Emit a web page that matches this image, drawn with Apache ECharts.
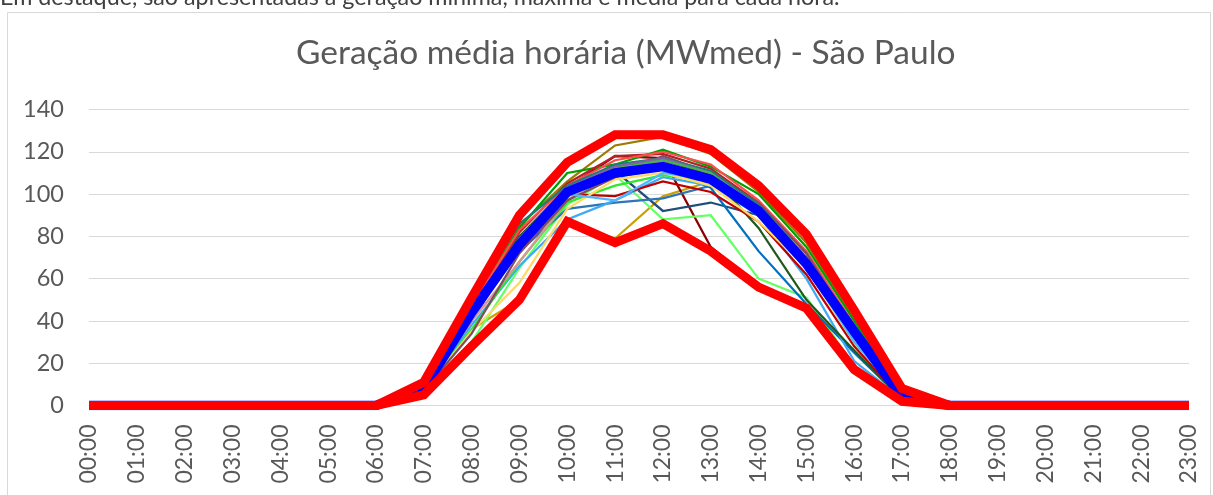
<!DOCTYPE html>
<html>
<head>
<meta charset="utf-8">
<script src="https://cdn.jsdelivr.net/npm/echarts@6/dist/echarts.min.js"></script>
<style>
  html, body { margin: 0; padding: 0; background: #ffffff; }
  #chart { width: 1213px; height: 495px; }
</style>
</head>
<body>
<div id="chart"></div>
<script>
// Hourly categories
const hours = ['00:00','01:00','02:00','03:00','04:00','05:00','06:00','07:00','08:00','09:00','10:00','11:00',
               '12:00','13:00','14:00','15:00','16:00','17:00','18:00','19:00','20:00','21:00','22:00','23:00'];

// Daily hourly generation profiles (MWmed)
const day01 = [0,0,0,0,0,0,0, 9,48,85,106,123,127,119,101,77,40,6, 0,0,0,0,0,0];
const day02 = [0,0,0,0,0,0,0, 6,36,50,87,79,99,106,92,70,34,4, 0,0,0,0,0,0];
const day03 = [0,0,0,0,0,0,0, 8,40,76,103,118,117,75,56,47,18,3, 0,0,0,0,0,0];
const day04 = [0,0,0,0,0,0,0, 7,30,65,95,109,88,90,60,51,19,3, 0,0,0,0,0,0];
const day05 = [0,0,0,0,0,0,0, 8,44,80,100,111,92,96,90,68,33,4, 0,0,0,0,0,0];
const day06 = [0,0,0,0,0,0,0, 8,42,73,93,96,98,104,91,67,32,4, 0,0,0,0,0,0];
const day07 = [0,0,0,0,0,0,0, 8,43,76,99,108,112,103,73,48,25,3, 0,0,0,0,0,0];
const day08 = [0,0,0,0,0,0,0, 7,38,66,88,97,108,104,90,60,21,3, 0,0,0,0,0,0];
const day09 = [0,0,0,0,0,0,0, 8,45,80,103,113,116,109,84,50,26,3, 0,0,0,0,0,0];
const day10 = [0,0,0,0,0,0,0, 7,36,68,96,104,109,106,94,65,30,4, 0,0,0,0,0,0];
const day11 = [0,0,0,0,0,0,0, 9,47,84,110,114,121,113,100,75,40,5, 0,0,0,0,0,0];
const day12 = [0,0,0,0,0,0,0, 8,42,77,100,99,106,101,87,62,28,3, 0,0,0,0,0,0];
const day13 = [0,0,0,0,0,0,0, 9,46,82,105,118,119,112,96,72,37,5, 0,0,0,0,0,0];
const day14 = [0,0,0,0,0,0,0, 9,47,83,104,116,120,114,97,73,38,5, 0,0,0,0,0,0];
const day15 = [0,0,0,0,0,0,0, 7,35,58,93,107,110,104,87,65,30,4, 0,0,0,0,0,0];
const day16 = [0,0,0,0,0,0,0, 8,40,68,97,112,115,108,95,70,34,4, 0,0,0,0,0,0];
const day17 = [0,0,0,0,0,0,0, 7,34,72,97,108,118,110,96,72,36,4, 0,0,0,0,0,0];
const day18 = [0,0,0,0,0,0,0, 9,50,86,104,114,117,111,95,70,35,4, 0,0,0,0,0,0];
const day19 = [0,0,0,0,0,0,0, 8,44,79,103,113,117,110,94,70,36,4, 0,0,0,0,0,0];
const day20 = [0,0,0,0,0,0,0, 8,41,74,100,97,110,107,92,66,30,4, 0,0,0,0,0,0];
const day21 = [0,0,0,0,0,0,0, 8,44,78,101,112,116,110,93,68,34,4, 0,0,0,0,0,0];

// Summary profiles
const meanGen = [0,0,0,0,0,0,0, 8,44,76,101,110,113,107,92,67,35,4, 0,0,0,0,0,0];
const maxGen  = [0,0,0,0,0,0,0, 11,51,90,115,128,128,121,104,81,45,8, 0,0,0,0,0,0];
const minGen  = [0,0,0,0,0,0,0, 5,28,50,87,77,86,73,56,46,17,2, 0,0,0,0,0,0];

// Y axis ticks
const yMin = 0, yMax = 140, yStep = 20;

const days = [day01,day02,day03,day04,day05,day06,day07,day08,day09,day10,day11,
              day12,day13,day14,day15,day16,day17,day18,day19,day20,day21];
const dayColors = ['#9c7a00','#c9a000','#8b0000','#66ff66','#1f4e79','#2e75b6','#0070c0',
                   '#3fa9f5','#1e5b1e','#2ee82e','#00a000','#c00000','#b22222','#ff4d4d',
                   '#ffd966','#d99694','#7f4f5f','#1f7a7a','#8064a2','#4db8ff','#4caf50'];

const FONT = 'Lato';
const series = days.map((d, i) => ({
  name: 'Dia ' + String(i + 1).padStart(2, '0'),
  type: 'line',
  data: d,
  symbol: 'none',
  lineStyle: { width: 2.25, color: dayColors[i], join: 'miter', cap: 'butt' },
  z: 2
}));
series.push({
  name: 'Média', type: 'line', data: meanGen, symbol: 'none',
  lineStyle: { width: 9.5, color: '#0000ff', join: 'miter', cap: 'butt' }, z: 3
});
series.push({
  name: 'Máxima', type: 'line', data: maxGen, symbol: 'none',
  lineStyle: { width: 9, color: '#ff0000', join: 'miter', cap: 'butt' }, z: 4
});
series.push({
  name: 'Mínima', type: 'line', data: minGen, symbol: 'none',
  lineStyle: { width: 9, color: '#ff0000', join: 'miter', cap: 'butt' }, z: 4
});

const chart = echarts.init(document.getElementById('chart'), null, { renderer: 'canvas' });
chart.setOption({
  animation: false,
  backgroundColor: '#ffffff',
  textStyle: { fontFamily: FONT },
  title: {
    text: 'Geração média horária (MWmed) - São Paulo',
    left: 296,
    top: 36,
    padding: 0,
    textStyle: { fontFamily: FONT, fontSize: 33.5, fontWeight: 'normal', color: '#595959' }
  },
  graphic: [
    {
      type: 'rect',
      shape: { x: 7.5, y: 12.5, width: 1203, height: 500 },
      style: { fill: 'none', stroke: '#d9d9d9', lineWidth: 1 },
      silent: true
    },
    {
      type: 'text',
      left: 0,
      top: -14,
      style: {
        text: 'Em destaque, são apresentadas a geração mínima, máxima e média para cada hora.',
        fontFamily: FONT, fontSize: 23.3, fill: '#404040'
      },
      silent: true
    }
  ],
  grid: { left: 89, right: 24, top: 109.5, bottom: 89.5, containLabel: false },
  xAxis: {
    type: 'category',
    data: hours,
    boundaryGap: false,
    axisLine: { show: true, lineStyle: { color: '#d9d9d9', width: 1 } },
    axisTick: { show: false },
    splitLine: { show: false },
    axisLabel: { rotate: 90, fontSize: 23, color: '#595959', margin: 19, fontFamily: FONT, interval: 0 }
  },
  yAxis: {
    type: 'value',
    min: yMin, max: yMax, interval: yStep,
    axisLine: { show: false },
    axisTick: { show: false },
    splitLine: { lineStyle: { color: '#d9d9d9', width: 1 } },
    axisLabel: { fontSize: 23.5, color: '#595959', margin: 25, fontFamily: FONT }
  },
  series: series
});
</script>
</body>
</html>
